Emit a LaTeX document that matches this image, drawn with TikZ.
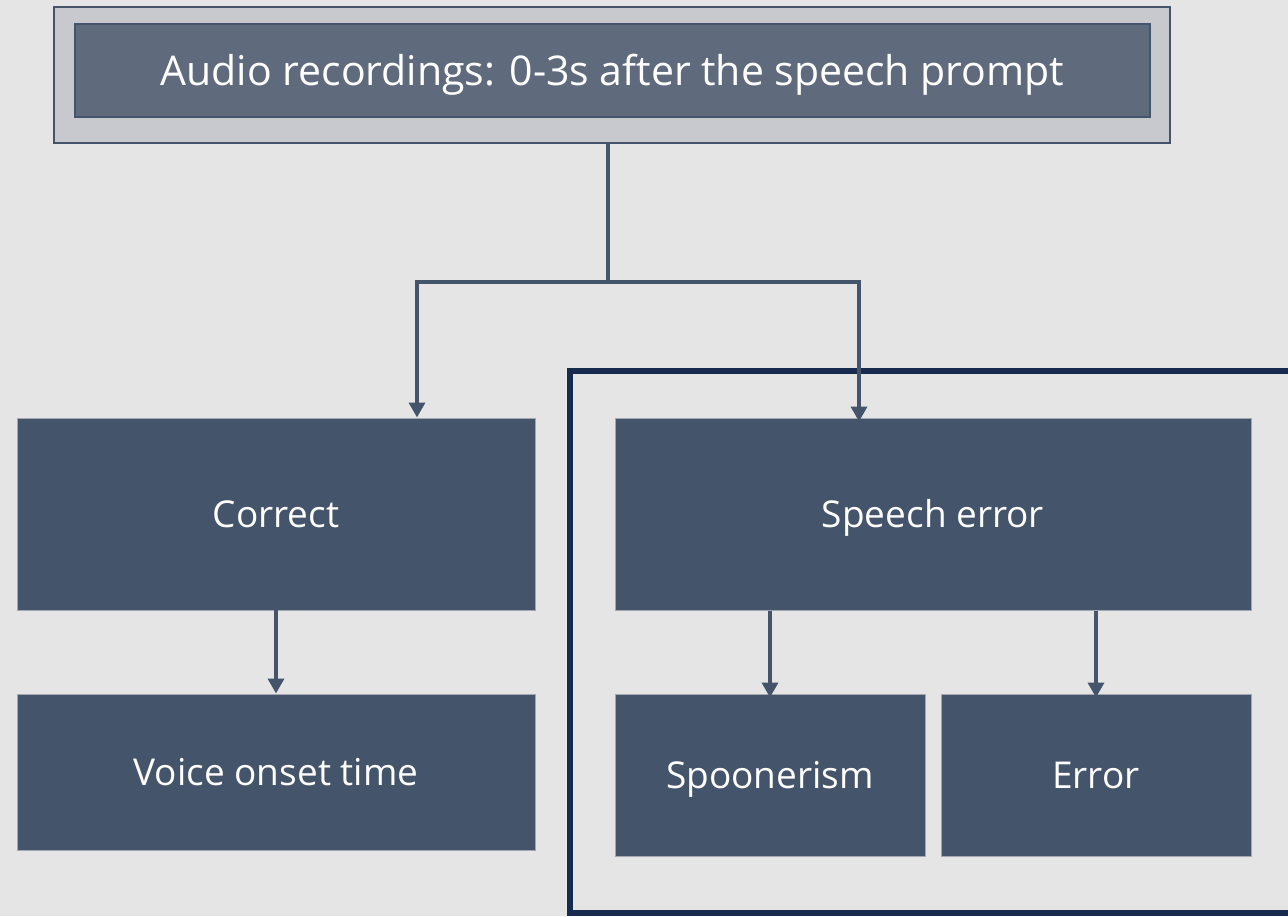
\documentclass[tikz,border=0pt]{standalone}
\usepackage{fontspec}
\setmainfont{Open Sans}
\usetikzlibrary{arrows.meta}
\definecolor{bg}{HTML}{E5E5E5}
\definecolor{boxfill}{HTML}{44546A}
\definecolor{boxedge}{HTML}{A3A8B0}
\definecolor{topouter}{HTML}{C8C9CE}
\definecolor{topinner}{HTML}{5F6B7C}
\definecolor{lineclr}{HTML}{44546A}
\definecolor{frameclr}{HTML}{172B4F}
\tikzset{
  box/.style={draw=boxedge, line width=1pt, fill=boxfill, text=white, inner sep=0pt,
    text height=30pt, text depth=3pt, font=\fontsize{37}{42}\selectfont},
  conn/.style={draw=lineclr, line width=3.5pt},
  arr/.style={conn, -{Triangle[width=16pt,length=15pt]}},
}
\begin{document}
\begin{tikzpicture}[x=1pt,y=-1pt]
\useasboundingbox (0,0) rectangle (1288,916);
\clip (0,0) rectangle (1288,916);
\fill[bg] (0,0) rectangle (1288,916);
% outer frame around speech error branch
\draw[frameclr, line width=6pt] (1310,371) -- (570,371) -- (570,913) -- (1310,913);
% top box
\node[draw=lineclr, line width=2pt, fill=topouter, minimum width=1116pt, minimum height=136pt, inner sep=0pt] (outer) at (611.5,74.5) {};
\node[draw=lineclr, line width=1.5pt, fill=topinner, text=white, minimum width=1075pt, minimum height=93pt, inner sep=0pt,
  text height=32pt, text depth=3pt, font=\fontsize{41}{46}\selectfont] (inner) at (612.5,70.5) {Audio recordings: 0-3s after the speech prompt};
% boxes
\node[box, minimum width=518pt, minimum height=192pt] (correct) at (276,514) {Correct};
\node[box, minimum width=518pt, minimum height=156pt] (voice) at (276,772) {Voice onset time};
\node[box, minimum width=636pt, minimum height=192pt] (se) at (933,514) {Speech error};
\node[box, minimum width=310pt, minimum height=162pt] (spoon) at (770,775) {Spoonerism};
\node[box, minimum width=310pt, minimum height=162pt] (err) at (1096,775) {Error};
% connectors
\coordinate (j) at (608,282);
\coordinate (jl) at (417,282);
\coordinate (jr) at (859,282);
\draw[conn] (outer.south -| j) -- (j);
\draw[arr] ([xshift=1.75pt]j) -- (jl) -- (jl |- correct.north);
\draw[arr] ([xshift=-1.75pt]j) -- (jr) -- ([yshift=-4pt]jr |- se.north);
\draw[arr] ([yshift=4pt]correct.south) -- (voice.north);
\draw[arr] (se.south -| spoon.north) -- ([yshift=-4pt]spoon.north);
\draw[arr] (se.south -| err.north) -- ([yshift=-4pt]err.north);
\end{tikzpicture}
\end{document}
